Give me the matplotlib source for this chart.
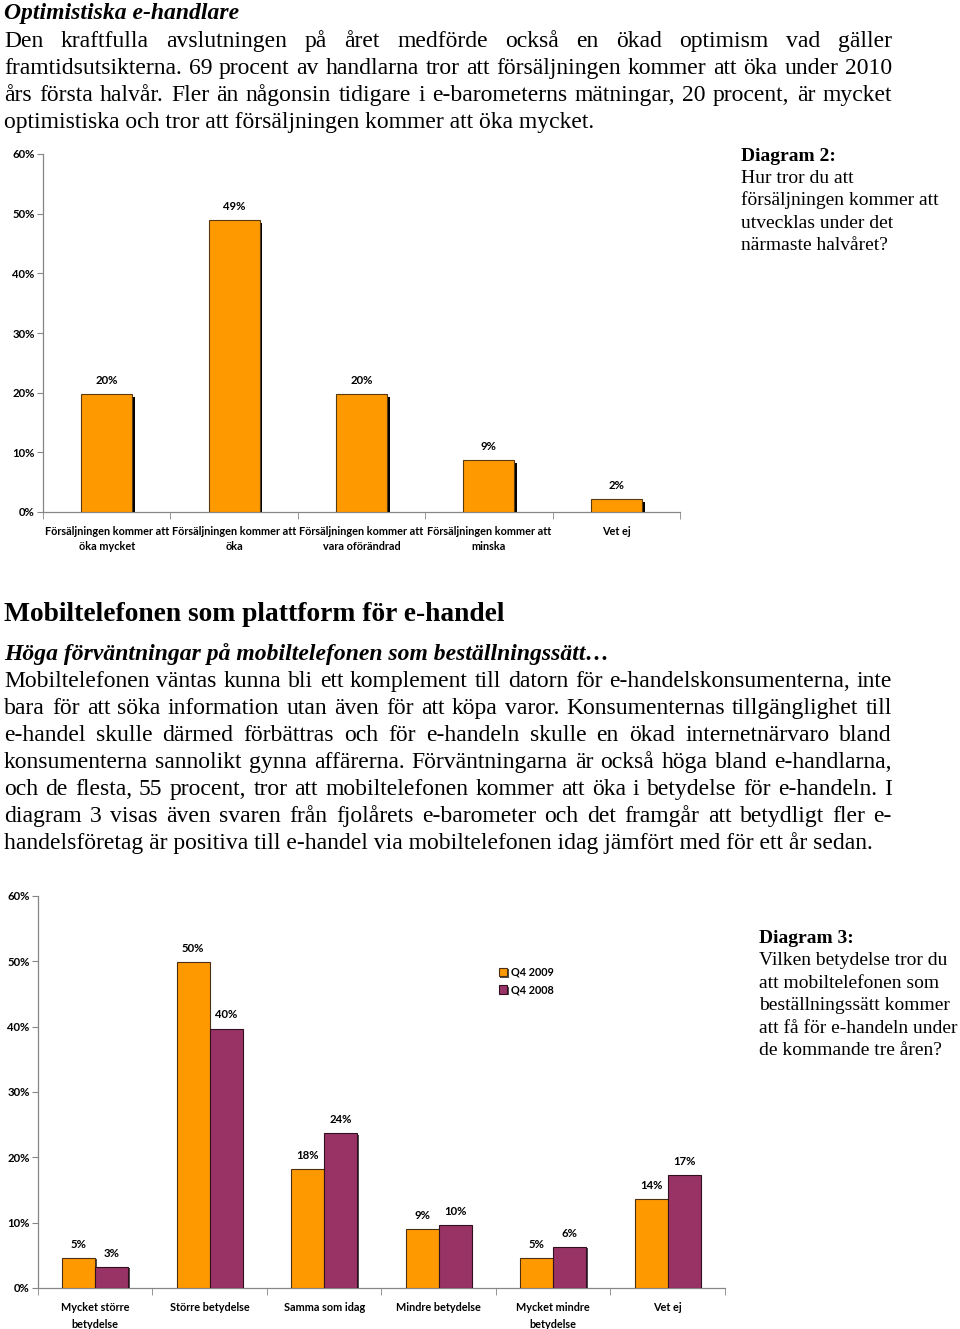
import matplotlib
matplotlib.use('Agg')
import matplotlib.pyplot as plt
import matplotlib.patheffects as pe
import numpy as np

# ---------------- data ----------------
cats1 = ["Försäljningen kommer att\nöka mycket", "Försäljningen kommer att\nöka",
         "Försäljningen kommer att\nvara oförändrad", "Försäljningen kommer att\nminska", "Vet ej"]
vals1 = [19.8, 48.9, 19.8, 8.7, 2.2]

cats2 = ["Mycket större\nbetydelse", "Större betydelse", "Samma som idag",
         "Mindre betydelse", "Mycket mindre\nbetydelse", "Vet ej"]
q4_2009 = [4.6, 49.9, 18.2, 9.0, 4.6, 13.6]
q4_2008 = [3.2, 39.7, 23.7, 9.6, 6.3, 17.3]
series_names = ["Q4 2009", "Q4 2008"]
yticks = [0, 10, 20, 30, 40, 50, 60]

ORANGE = "#FF9900"
PURPLE = "#993366"
SPINE = "#868686"
SANS = "Lato"
SERIF = "Liberation Serif"
LBL = 7.8

W, H = 960, 1329
fig = plt.figure(figsize=(W / 100, H / 100), dpi=100)
renderer = fig.canvas.get_renderer()


def fx(px):
    return px / W


def fy(py):
    return 1 - py / H


def put(text, x, y, size, weight='normal', style='normal', family=SERIF, ha='left'):
    return fig.text(fx(x), fy(y), text, fontsize=size, fontweight=weight,
                    fontstyle=style, family=family, ha=ha, va='baseline')


def justify(line, x0, x1, y, size, **kw):
    words = line.split(' ')
    ts = [put(w, 0, y, size, **kw) for w in words]
    ws = [t.get_window_extent(renderer).width for t in ts]
    gap = (x1 - x0 - sum(ws)) / (len(words) - 1)
    x = x0
    for t, w in zip(ts, ws):
        t.set_x(fx(x))
        x += w + gap


# ---------------- text blocks ----------------
BODY = 17
put("Optimistiska e-handlare", 4, 19, BODY, weight='bold', style='italic')
para1 = ["Den kraftfulla avslutningen på året medförde också en ökad optimism vad gäller",
         "framtidsutsikterna. 69 procent av handlarna tror att försäljningen kommer att öka under 2010",
         "års första halvår. Fler än någonsin tidigare i e-barometerns mätningar, 20 procent, är mycket"]
for i, ln in enumerate(para1):
    justify(ln, 4, 892, 47 + 27 * i, BODY)
put("optimistiska och tror att försäljningen kommer att öka mycket.", 4, 128, BODY)

put("Diagram 2:", 741, 161, 14, weight='bold')
for i, ln in enumerate(["Hur tror du att", "försäljningen kommer att", "utvecklas under det",
                        "närmaste halvåret?"]):
    put(ln, 741, 183 + 22.3 * (i), 14)

put("Mobiltelefonen som plattform för e-handel", 4, 621, 19.8, weight='bold')
put("Höga förväntningar på mobiltelefonen som beställningssätt…", 4, 660, BODY,
    weight='bold', style='italic')
para2 = ["Mobiltelefonen väntas kunna bli ett komplement till datorn för e-handelskonsumenterna, inte",
         "bara för att söka information utan även för att köpa varor. Konsumenternas tillgänglighet till",
         "e-handel skulle därmed förbättras och för e-handeln skulle en ökad internetnärvaro bland",
         "konsumenterna sannolikt gynna affärerna. Förväntningarna är också höga bland e-handlarna,",
         "och de flesta, 55 procent, tror att mobiltelefonen kommer att öka i betydelse för e-handeln. I",
         "diagram 3 visas även svaren från fjolårets e-barometer och det framgår att betydligt fler e-"]
for i, ln in enumerate(para2):
    justify(ln, 4, 892, 687 + 27 * i, BODY)
put("handelsföretag är positiva till e-handel via mobiltelefonen idag jämfört med för ett år sedan.",
    4, 849, BODY)

put("Diagram 3:", 759, 943, 14, weight='bold')
for i, ln in enumerate(["Vilken betydelse tror du", "att mobiltelefonen som", "beställningssätt kommer",
                        "att få för e-handeln under", "de kommande tre åren?"]):
    put(ln, 759, 965 + 22.6 * i, 14)


def style_axes(ax, ncat):
    for s in ['top', 'right']:
        ax.spines[s].set_visible(False)
    for s in ['left', 'bottom']:
        ax.spines[s].set_color(SPINE)
        ax.spines[s].set_linewidth(0.9)
    ax.set_ylim(0, 60)
    ax.set_xlim(-0.5, ncat - 0.5)
    ax.set_yticks(yticks)
    ax.set_yticklabels([f"{v}%" for v in yticks], fontsize=8.2, fontweight='bold', family=SANS)
    ax.tick_params(axis='y', length=4, color=SPINE, pad=2)
    ax.set_xticks(np.arange(ncat))
    ax.set_xticks(np.arange(ncat + 1) - 0.5, minor=True)
    ax.tick_params(axis='x', which='major', length=0, pad=10)
    ax.tick_params(axis='x', which='minor', length=5, color=SPINE)
    ax.set_facecolor('none')


# ---------------- chart 1 ----------------
ax1 = fig.add_axes([fx(43), fy(512), (680 - 43) / W, (512 - 154) / H])
x1 = np.arange(len(vals1))
bars = ax1.bar(x1, vals1, width=0.4, color=ORANGE, edgecolor='#5a3a10', linewidth=0.8, zorder=3)
for b in bars:
    b.set_path_effects([pe.SimplePatchShadow(offset=(2, -2), shadow_rgbFace='black', alpha=1),
                        pe.Normal()])
for xi, v in zip(x1, vals1):
    ax1.annotate(f"{round(v)}%", (xi, v), xytext=(0, 6), textcoords='offset points',
                 ha='center', va='bottom', fontsize=8.2, fontweight='bold', family=SANS)
style_axes(ax1, len(vals1))
ax1.set_xticklabels(cats1, fontsize=LBL, fontweight='bold', family=SANS, linespacing=1.5)

# ---------------- chart 2 ----------------
ax2 = fig.add_axes([fx(38), fy(1288), (725 - 38) / W, (1288 - 896) / H])
x2 = np.arange(len(q4_2009))
bw = 0.29
b1 = ax2.bar(x2 - bw / 2, q4_2009, width=bw, color=ORANGE, edgecolor='#4a3010', linewidth=0.8,
             zorder=3, label=series_names[0])
b2 = ax2.bar(x2 + bw / 2, q4_2008, width=bw, color=PURPLE, edgecolor='#301020', linewidth=0.8,
             zorder=3, label=series_names[1])
for b in list(b1) + list(b2):
    b.set_path_effects([pe.SimplePatchShadow(offset=(1, -1), shadow_rgbFace='#222222', alpha=0.8),
                        pe.Normal()])
for xs, vals in [(x2 - bw / 2, q4_2009), (x2 + bw / 2, q4_2008)]:
    for xi, v in zip(xs, vals):
        ax2.annotate(f"{round(v)}%", (xi, v), xytext=(0, 6), textcoords='offset points',
                     ha='center', va='bottom', fontsize=8.2, fontweight='bold', family=SANS)
style_axes(ax2, len(q4_2009))
ax2.set_xticklabels(cats2, fontsize=LBL, fontweight='bold', family=SANS, linespacing=1.65)
ax2.legend(loc='upper left', bbox_to_anchor=(fx(489), fy(957)), bbox_transform=fig.transFigure,
           frameon=False, prop={'family': SANS, 'weight': 'bold', 'size': LBL},
           handlelength=0.8, handleheight=0.8, handletextpad=0.35, labelspacing=0.6)

fig.savefig("out.png", dpi=100, facecolor='white')
